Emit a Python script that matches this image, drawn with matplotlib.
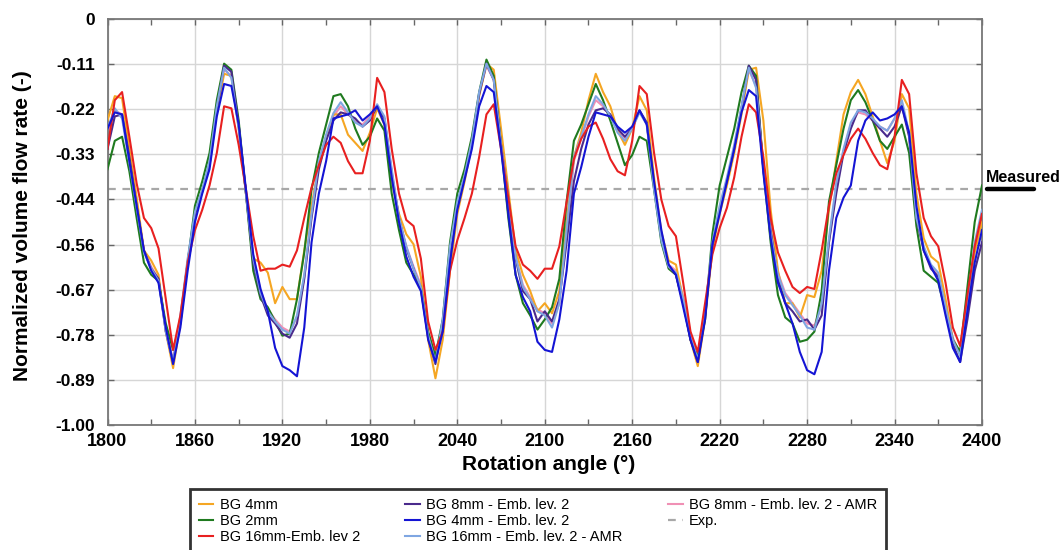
import numpy as np
import matplotlib
matplotlib.use("Agg")
import matplotlib.pyplot as plt

plt.rcParams['font.family'] = ['Liberation Sans', 'DejaVu Sans']

# rotation angle grid (deg) and normalized volume flow rate per case
angle = np.arange(1800, 2405, 5)

bg_4mm = [
    -0.25, -0.19, -0.195, -0.32, -0.44, -0.57, -0.595, -0.63, -0.77, -0.86, -0.75, -0.60,
    -0.48, -0.425, -0.36, -0.23, -0.135, -0.14, -0.27, -0.43, -0.59, -0.60, -0.625, -0.70,
    -0.66, -0.69, -0.69, -0.57, -0.46, -0.36, -0.29, -0.235, -0.235, -0.285, -0.305, -0.325,
    -0.28, -0.22, -0.26, -0.40, -0.48, -0.53, -0.555, -0.635, -0.79, -0.885, -0.79, -0.62,
    -0.48, -0.40, -0.31, -0.19, -0.11, -0.125, -0.27, -0.42, -0.57, -0.63, -0.67, -0.72,
    -0.70, -0.725, -0.67, -0.50, -0.34, -0.28, -0.20, -0.135, -0.18, -0.215, -0.275, -0.31,
    -0.27, -0.19, -0.225, -0.39, -0.525, -0.595, -0.605, -0.69, -0.79, -0.855, -0.74, -0.57,
    -0.48, -0.41, -0.33, -0.235, -0.125, -0.12, -0.25, -0.47, -0.62, -0.70, -0.70, -0.735,
    -0.68, -0.685, -0.62, -0.47, -0.35, -0.235, -0.18, -0.15, -0.185, -0.24, -0.30, -0.355,
    -0.30, -0.185, -0.22, -0.43, -0.54, -0.585, -0.60, -0.69, -0.79, -0.82, -0.69, -0.575,
    -0.50]

bg_2mm = [
    -0.37, -0.30, -0.29, -0.375, -0.49, -0.60, -0.63, -0.645, -0.75, -0.815, -0.75, -0.60,
    -0.46, -0.40, -0.33, -0.20, -0.11, -0.125, -0.25, -0.43, -0.62, -0.69, -0.71, -0.745,
    -0.78, -0.775, -0.69, -0.575, -0.42, -0.33, -0.26, -0.19, -0.185, -0.215, -0.27, -0.31,
    -0.29, -0.245, -0.275, -0.43, -0.52, -0.60, -0.63, -0.66, -0.77, -0.83, -0.74, -0.55,
    -0.43, -0.37, -0.29, -0.18, -0.10, -0.14, -0.31, -0.49, -0.63, -0.70, -0.73, -0.765,
    -0.74, -0.71, -0.64, -0.45, -0.30, -0.26, -0.21, -0.16, -0.20, -0.25, -0.305, -0.36,
    -0.335, -0.29, -0.30, -0.42, -0.55, -0.615, -0.63, -0.70, -0.79, -0.83, -0.74, -0.53,
    -0.41, -0.34, -0.27, -0.18, -0.115, -0.14, -0.37, -0.55, -0.68, -0.735, -0.75, -0.795,
    -0.79, -0.77, -0.67, -0.45, -0.36, -0.27, -0.20, -0.175, -0.205, -0.25, -0.30, -0.32,
    -0.29, -0.26, -0.33, -0.51, -0.62, -0.635, -0.65, -0.72, -0.79, -0.82, -0.66, -0.50,
    -0.41]

bg_16mm_emb2 = [
    -0.32, -0.20, -0.18, -0.29, -0.405, -0.49, -0.515, -0.565, -0.69, -0.815, -0.73, -0.60,
    -0.52, -0.47, -0.41, -0.33, -0.215, -0.22, -0.31, -0.42, -0.535, -0.62, -0.615, -0.615,
    -0.605, -0.61, -0.57, -0.49, -0.415, -0.36, -0.31, -0.29, -0.305, -0.35, -0.38, -0.38,
    -0.30, -0.145, -0.18, -0.32, -0.43, -0.495, -0.51, -0.59, -0.745, -0.815, -0.77, -0.62,
    -0.545, -0.49, -0.43, -0.34, -0.235, -0.21, -0.32, -0.44, -0.56, -0.605, -0.62, -0.64,
    -0.615, -0.615, -0.56, -0.45, -0.345, -0.295, -0.265, -0.255, -0.295, -0.345, -0.375, -0.385,
    -0.30, -0.165, -0.185, -0.33, -0.445, -0.51, -0.535, -0.65, -0.77, -0.82, -0.70, -0.58,
    -0.515, -0.465, -0.39, -0.29, -0.21, -0.23, -0.34, -0.49, -0.575, -0.62, -0.66, -0.675,
    -0.66, -0.665, -0.57, -0.46, -0.38, -0.335, -0.295, -0.27, -0.295, -0.33, -0.36, -0.37,
    -0.29, -0.15, -0.185, -0.38, -0.49, -0.535, -0.56, -0.65, -0.76, -0.805, -0.68, -0.56,
    -0.48]

bg_8mm_emb2 = [
    -0.32, -0.24, -0.235, -0.34, -0.46, -0.57, -0.615, -0.64, -0.77, -0.845, -0.74, -0.60,
    -0.48, -0.425, -0.36, -0.22, -0.115, -0.13, -0.26, -0.43, -0.60, -0.68, -0.73, -0.75,
    -0.775, -0.785, -0.75, -0.64, -0.49, -0.37, -0.30, -0.25, -0.23, -0.235, -0.245, -0.265,
    -0.25, -0.215, -0.245, -0.38, -0.49, -0.565, -0.615, -0.665, -0.785, -0.85, -0.75, -0.57,
    -0.455, -0.39, -0.305, -0.185, -0.11, -0.15, -0.31, -0.44, -0.59, -0.67, -0.69, -0.745,
    -0.72, -0.745, -0.69, -0.55, -0.40, -0.32, -0.26, -0.225, -0.22, -0.235, -0.27, -0.29,
    -0.27, -0.225, -0.255, -0.41, -0.54, -0.61, -0.63, -0.70, -0.79, -0.845, -0.73, -0.56,
    -0.47, -0.40, -0.32, -0.22, -0.115, -0.15, -0.37, -0.52, -0.64, -0.70, -0.72, -0.745,
    -0.74, -0.765, -0.73, -0.55, -0.43, -0.33, -0.27, -0.225, -0.225, -0.25, -0.27, -0.29,
    -0.265, -0.215, -0.29, -0.49, -0.57, -0.615, -0.635, -0.72, -0.80, -0.845, -0.74, -0.62,
    -0.55]

bg_4mm_emb2 = [
    -0.27, -0.23, -0.235, -0.35, -0.46, -0.57, -0.62, -0.65, -0.76, -0.85, -0.76, -0.62,
    -0.50, -0.43, -0.37, -0.24, -0.16, -0.165, -0.26, -0.42, -0.58, -0.665, -0.72, -0.81,
    -0.855, -0.865, -0.88, -0.76, -0.55, -0.43, -0.35, -0.245, -0.24, -0.235, -0.225, -0.25,
    -0.235, -0.215, -0.26, -0.39, -0.50, -0.585, -0.635, -0.67, -0.79, -0.845, -0.77, -0.60,
    -0.47, -0.395, -0.32, -0.215, -0.165, -0.18, -0.32, -0.48, -0.63, -0.685, -0.72, -0.795,
    -0.815, -0.82, -0.74, -0.62, -0.43, -0.365, -0.29, -0.23, -0.235, -0.24, -0.265, -0.28,
    -0.265, -0.225, -0.26, -0.40, -0.52, -0.605, -0.63, -0.71, -0.79, -0.845, -0.74, -0.555,
    -0.48, -0.40, -0.32, -0.23, -0.175, -0.19, -0.38, -0.54, -0.65, -0.70, -0.75, -0.82,
    -0.865, -0.875, -0.82, -0.62, -0.49, -0.44, -0.41, -0.30, -0.25, -0.23, -0.25, -0.245,
    -0.235, -0.215, -0.28, -0.46, -0.57, -0.61, -0.645, -0.73, -0.81, -0.845, -0.72, -0.60,
    -0.52]

bg_16mm_emb2_amr = [
    -0.27, -0.22, -0.245, -0.355, -0.465, -0.575, -0.615, -0.645, -0.77, -0.845, -0.73, -0.59,
    -0.475, -0.42, -0.35, -0.215, -0.12, -0.145, -0.27, -0.43, -0.59, -0.675, -0.72, -0.745,
    -0.765, -0.775, -0.73, -0.63, -0.48, -0.35, -0.285, -0.232, -0.205, -0.23, -0.255, -0.265,
    -0.245, -0.21, -0.24, -0.37, -0.49, -0.56, -0.615, -0.66, -0.78, -0.845, -0.74, -0.56,
    -0.45, -0.385, -0.30, -0.18, -0.11, -0.15, -0.31, -0.44, -0.585, -0.66, -0.69, -0.72,
    -0.73, -0.76, -0.70, -0.52, -0.34, -0.29, -0.235, -0.19, -0.21, -0.24, -0.28, -0.30,
    -0.27, -0.23, -0.26, -0.42, -0.545, -0.61, -0.625, -0.69, -0.78, -0.84, -0.72, -0.55,
    -0.46, -0.39, -0.31, -0.215, -0.12, -0.17, -0.37, -0.53, -0.63, -0.68, -0.705, -0.73,
    -0.76, -0.765, -0.70, -0.54, -0.405, -0.32, -0.255, -0.225, -0.23, -0.245, -0.265, -0.275,
    -0.245, -0.20, -0.28, -0.49, -0.56, -0.605, -0.625, -0.71, -0.79, -0.83, -0.70, -0.55,
    -0.47]

bg_8mm_emb2_amr = [
    -0.29, -0.225, -0.235, -0.345, -0.46, -0.57, -0.61, -0.64, -0.765, -0.84, -0.735, -0.595,
    -0.48, -0.425, -0.355, -0.22, -0.125, -0.14, -0.265, -0.425, -0.585, -0.67, -0.715, -0.74,
    -0.76, -0.77, -0.735, -0.635, -0.485, -0.355, -0.29, -0.24, -0.215, -0.235, -0.25, -0.26,
    -0.24, -0.215, -0.245, -0.375, -0.49, -0.56, -0.61, -0.655, -0.775, -0.84, -0.745, -0.565,
    -0.455, -0.39, -0.305, -0.185, -0.115, -0.15, -0.305, -0.44, -0.585, -0.655, -0.685, -0.715,
    -0.725, -0.75, -0.70, -0.53, -0.35, -0.295, -0.24, -0.20, -0.215, -0.24, -0.275, -0.295,
    -0.265, -0.225, -0.26, -0.415, -0.54, -0.605, -0.62, -0.685, -0.775, -0.835, -0.725, -0.555,
    -0.465, -0.395, -0.315, -0.22, -0.125, -0.165, -0.365, -0.52, -0.625, -0.675, -0.70, -0.725,
    -0.75, -0.755, -0.705, -0.55, -0.41, -0.325, -0.26, -0.23, -0.235, -0.25, -0.265, -0.275,
    -0.245, -0.205, -0.285, -0.49, -0.565, -0.61, -0.63, -0.71, -0.785, -0.825, -0.71, -0.56,
    -0.49]

exp_level = -0.419

labels = ['BG 4mm', 'BG 2mm', 'BG 16mm-Emb. lev 2', 'BG 8mm - Emb. lev. 2',
          'BG 4mm - Emb. lev. 2', 'BG 16mm - Emb. lev. 2 - AMR', 'BG 8mm - Emb. lev. 2 - AMR']
series = [bg_4mm, bg_2mm, bg_16mm_emb2, bg_8mm_emb2, bg_4mm_emb2,
          bg_16mm_emb2_amr, bg_8mm_emb2_amr]
colors = ['#f5a623', '#1f7a1f', '#e82020', '#4a2a8c', '#1414d4', '#7fa6e2', '#f090b5']
zorders = [3, 3, 4, 3, 4, 3, 2]

yticks = np.linspace(0, -1, 10)
ytick_labels = ['0'] + ['%.2f' % t for t in yticks[1:]]

fig = plt.figure(figsize=(10.62, 5.5), dpi=100)
ax = fig.add_axes([107.5 / 1062, 125 / 550, 874.5 / 1062, 406 / 550])

for vals, lab, col, z in zip(series, labels, colors, zorders):
    ax.plot(angle, vals, color=col, lw=1.5, label=lab, zorder=z,
            solid_joinstyle='round')
ax.axhline(exp_level, color='#a8a8a8', lw=1.6, ls=(0, (3.5, 3)), label='Exp.', zorder=2)

ax.set_xlim(1800, 2400)
ax.set_ylim(-1, 0)
ax.set_xticks(range(1800, 2401, 60))
ax.set_xticks(range(1830, 2400, 60), minor=True)
ax.set_yticks(yticks)
ax.set_yticklabels(ytick_labels)
ax.grid(which='major', color='#d6d6d6', lw=1.0, zorder=0)
ax.set_axisbelow(True)
ax.tick_params(which='both', direction='in', top=True, right=True, length=4,
               color='#666666', width=1)
ax.tick_params(axis='y', labelsize=12.5, pad=9)
ax.tick_params(axis='x', labelsize=13, pad=6)
for t in ax.get_xticklabels() + ax.get_yticklabels():
    t.set_fontweight('bold')
for s in ax.spines.values():
    s.set_color('#777777')
    s.set_linewidth(1.3)

ax.set_xlabel('Rotation angle (°)', fontsize=15, fontweight='bold')
ax.xaxis.set_label_coords(0.504, -0.075)
ax.set_ylabel('Normalized volume flow rate (-)', fontsize=15, fontweight='bold')
ax.yaxis.set_label_coords(-0.086, 0.49)

# "Measured" tag at the right of the experimental line
ytr = ax.get_yaxis_transform()
ax.annotate('Measured', xy=(1.0, exp_level), xycoords=ytr, xytext=(3, 3),
            textcoords='offset points', fontsize=11.5, fontweight='bold',
            va='bottom', ha='left', annotation_clip=False)
ax.plot([1.006, 1.06], [exp_level, exp_level], transform=ytr, clip_on=False,
        color='black', lw=3.2, solid_capstyle='round')

leg = ax.legend(loc='upper left', bbox_to_anchor=(190 / 1062, 1 - 489 / 550),
                bbox_transform=fig.transFigure, ncol=3, fontsize=10.5,
                frameon=True, fancybox=False, edgecolor='black', borderaxespad=0,
                handlelength=1.0, handletextpad=0.45, columnspacing=3.1,
                labelspacing=0.16, borderpad=0.6)
leg.get_frame().set_linewidth(2)

fig.savefig('out.png', dpi=100)
